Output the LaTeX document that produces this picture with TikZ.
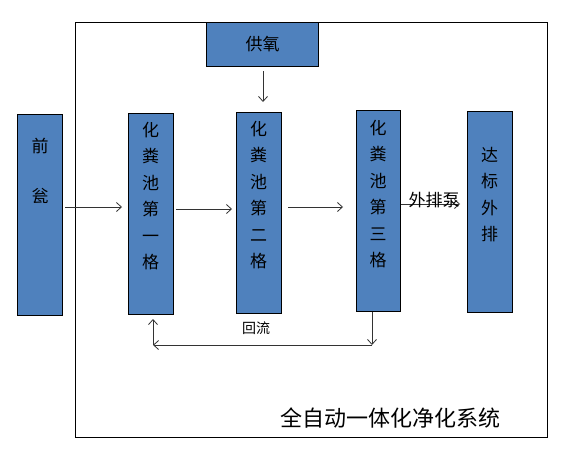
\documentclass[tikz,border=0pt]{standalone}
\usepackage{fontspec}
\setmainfont{Noto Sans CJK SC}
\usetikzlibrary{arrows.meta}
\definecolor{boxblue}{HTML}{4F81BD}
\begin{document}
\begin{tikzpicture}[x=1pt,y=-1pt,
  box/.style={draw=black, line width=1pt, fill=boxblue, inner sep=0pt, anchor=north west},
  vtxt/.style={anchor=north, align=center, inner sep=0pt, font=\fontsize{17}{26.5}\selectfont},
  arr/.style={-{Straight Barb[length=5pt,width=9pt]}, line width=0.8pt, draw=black!80}]
\useasboundingbox (0,0) rectangle (572,450);
\fill[white] (0,0) rectangle (572,450);
\node[draw, line width=0.8pt, inner sep=0pt, minimum width=472pt, minimum height=415pt, anchor=north west] (sys) at (75,22) {};
\node[box, minimum width=45pt, minimum height=201pt] (pre) at (17,114) {};
\node[box, minimum width=45pt, minimum height=201pt] (b1) at (128,113) {};
\node[box, minimum width=45pt, minimum height=201pt] (b2) at (236,112) {};
\node[box, minimum width=44pt, minimum height=201pt] (b3) at (356,110) {};
\node[box, minimum width=45pt, minimum height=201pt] (b4) at (467,111) {};
\node[box, minimum width=112pt, minimum height=44pt] (gy) at (206,22) {};
% texts
\node[vtxt, font=\fontsize{17}{50}\selectfont] (tpre) at (40,138) {前\\瓮};
\node[vtxt] (t1) at (150.5,122) {化\\粪\\池\\第\\一\\格};
\node[vtxt] (t2) at (258.5,121) {化\\粪\\池\\第\\二\\格};
\node[vtxt] (t3) at (378,120) {化\\粪\\池\\第\\三\\格};
\node[vtxt] (t4) at (489.5,147) {达\\标\\外\\排};
\node[font=\fontsize{17}{20}\selectfont, inner sep=0pt] (tgy) at (gy.center) {供氧};
% arrows
\draw[arr, shorten <=2pt, shorten >=6pt] (pre.east |- 0,207) -- (b1.west |- 0,207);
\draw[arr, shorten <=2pt, shorten >=4pt] (b1.east |- 0,209) -- (b2.west |- 0,209);
\draw[arr, shorten <=6pt, shorten >=13pt] (b2.east |- 0,207) -- (b3.west |- 0,207);
\draw[arr, shorten >=7pt] (b3.east |- 0,204) -- node[above=-5pt, font=\fontsize{17}{20}\selectfont, inner sep=1pt] (lpump) {外排泵} (b4.west |- 0,204);
\draw[arr, shorten <=4pt, shorten >=10pt] (gy.south -| 263,0) -- (b2.north -| 263,0);
\coordinate (r1) at (372,345);
\coordinate (r2) at (153,345);
\draw[arr] (b3.south -| r1) -- (r1);
\draw[arr] (r1) -- (r2);
\draw[arr, shorten >=4pt] (r2) -- (r2 |- b1.south);
\node[font=\fontsize{14}{16}\selectfont, inner sep=0pt] (lret) at (256,328) {回流};
\node[font=\fontsize{22}{26}\selectfont, inner sep=0pt] (title) at (390,418) {全自动一体化净化系统};
\end{tikzpicture}
\end{document}
